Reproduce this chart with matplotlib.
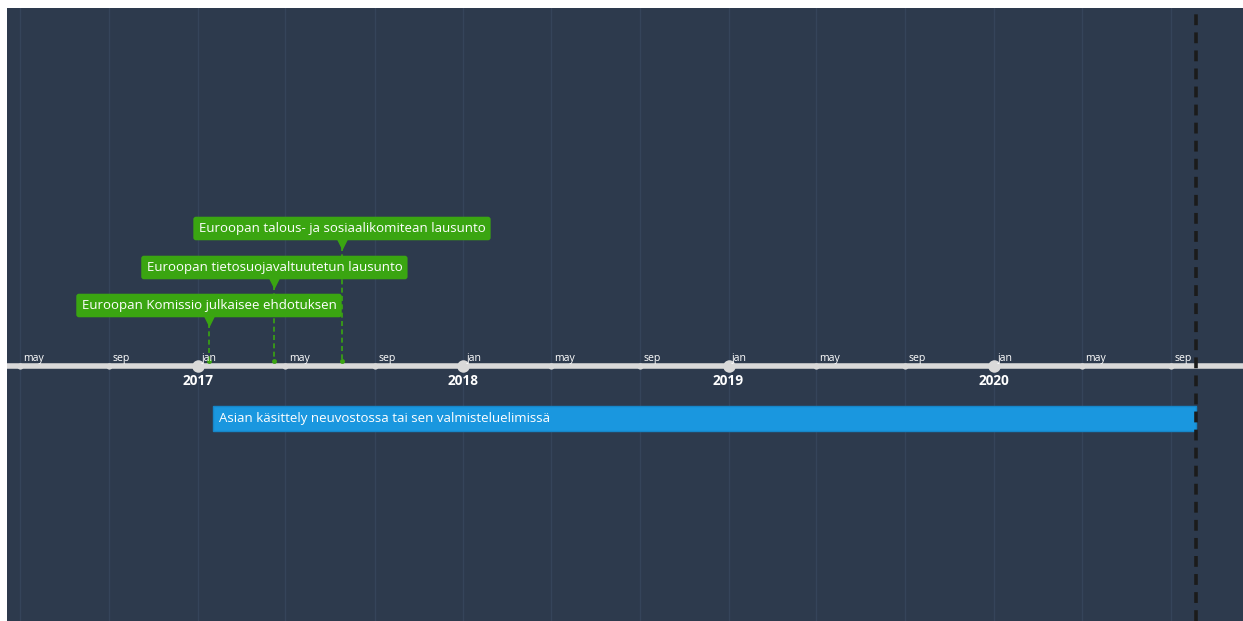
import datetime as dt
import matplotlib
matplotlib.use("Agg")
import matplotlib.pyplot as plt
import matplotlib.dates as mdates

plt.rcParams["font.family"] = ["Open Sans", "DejaVu Sans"]

# ---- data ----
event_labels = [
    "Euroopan Komissio julkaisee ehdotuksen",
    "Euroopan tietosuojavaltuutetun lausunto",
    "Euroopan talous- ja sosiaalikomitean lausunto",
]
event_dates = ["2017-01-16", "2017-04-16", "2017-07-18"]
event_lanes = [0, 1, 2]

phase_labels = ["Asian käsittely neuvostossa tai sen valmisteluelimissä"]
phase_start = ["2017-01-21"]
phase_end = ["2020-10-05"]

today = "2020-10-06"
view_start = "2016-04-13"
view_end = "2020-12-09"
month_names = {1: "jan", 5: "may", 9: "sep"}

# ---- style ----
BG = "#2d3a4d"
GREEN = "#3aa511"
BLUE = "#1a97df"
AXIS = "#d9d9d9"
GRID = "#35445a"


def d(s):
    return mdates.date2num(dt.datetime.strptime(s, "%Y-%m-%d"))


W, H = 1243, 621
fig = plt.figure(figsize=(W / 100, H / 100), dpi=100)
fig.patch.set_facecolor("white")
ax = fig.add_axes([7 / W, 0, (W - 7) / W, (H - 8) / H])
ax.set_facecolor(BG)
ax.set_xlim(d(view_start), d(view_end))
ax.set_ylim(621, 8)  # y in pixel rows, top down
for s in ax.spines.values():
    s.set_visible(False)
ax.set_xticks([])
ax.set_yticks([])

axis_y = 366

# month ticks (every 4 months)
loc = mdates.MonthLocator(bymonth=[1, 5, 9])
ticks = loc.tick_values(mdates.num2date(d(view_start)), mdates.num2date(d(view_end)))
ticks = [t for t in ticks if d(view_start) < t < d(view_end)]
for t in ticks:
    ax.axvline(t, color=GRID, lw=1, zorder=0)

ax.axhline(axis_y, color=AXIS, lw=4, zorder=2)

for t in ticks:
    date = mdates.num2date(t)
    big = date.month == 1
    ax.plot(t, axis_y, "o", ms=9 if big else 4.5, color=AXIS, mec="none", zorder=3)
    ax.annotate(month_names[date.month], (t, axis_y), xytext=(2.5, 1.5),
                textcoords="offset points", color="white", fontsize=7.6,
                ha="left", va="bottom", zorder=4)
    if big:
        ax.annotate(str(date.year), (t, axis_y), xytext=(0, -6),
                    textcoords="offset points", color="white", fontsize=9.8,
                    fontweight="bold", ha="center", va="top", zorder=4)

# events
lane_y = [305.5, 267.5, 228.5]
for label, ds, lane in zip(event_labels, event_dates, event_lanes):
    x = d(ds)
    y = lane_y[lane]
    ax.plot([x, x], [y + 18, axis_y - 4], color=GREEN, lw=1.2,
            ls=(0, (3, 2)), zorder=1)
    ax.plot(x, axis_y - 5, "o", ms=3.5, color=GREEN, mec="none", zorder=3)
    ax.plot(x, y + 15, "v", ms=10, color=GREEN, mec="none", zorder=4)
    ax.text(x, y, label, color="white", fontsize=9.5, ha="center",
            va="center", zorder=5,
            bbox=dict(boxstyle="round,pad=0.4,rounding_size=0.2",
                      fc=GREEN, ec="none"))

# phases
for label, s0, s1 in zip(phase_labels, phase_start, phase_end):
    x0, x1 = d(s0), d(s1)
    ax.barh(418.5, x1 - x0, left=x0, height=25, color=BLUE,
            edgecolor="#1686c8", lw=1, zorder=3)
    ax.annotate(label, (x0, 418.5), xytext=(4.5, 0),
                textcoords="offset points", color="white", fontsize=9.5,
                ha="left", va="center", zorder=4)

# today marker
ax.axvline(d(today), color="#1b1b1b", lw=2.6, ls=(0, (3, 2)), zorder=6)

fig.savefig("out.png", dpi=100, facecolor=fig.get_facecolor())
